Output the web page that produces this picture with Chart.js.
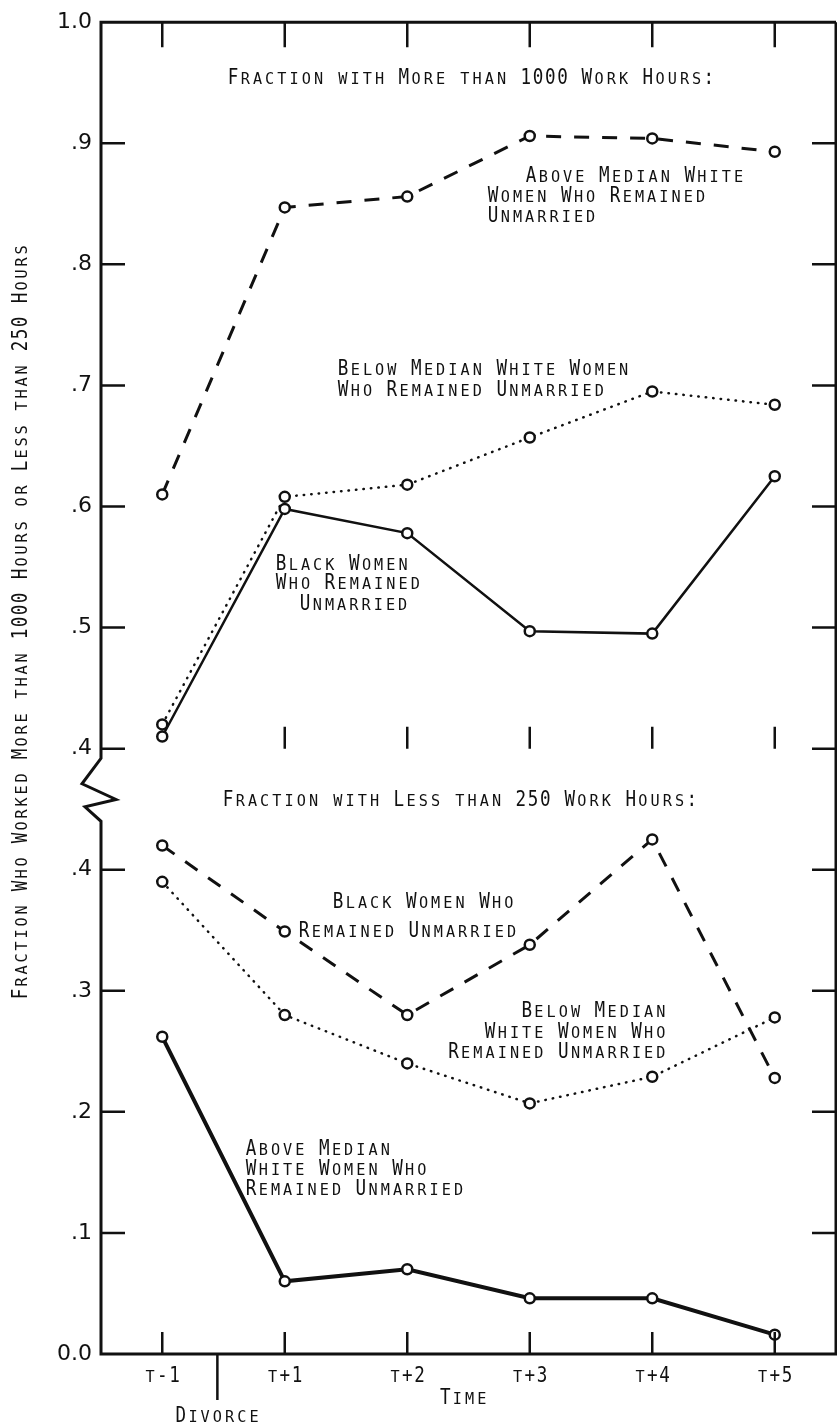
<!DOCTYPE html>
<html>
<head>
<meta charset="utf-8">
<title>Work hours after divorce</title>
<script src="https://cdn.jsdelivr.net/npm/chart.js@4.4.1/dist/chart.umd.min.js"></script>
<style>
  html, body { margin: 0; padding: 0; background: #fff; }
  canvas { display: block; }
</style>
</head>
<body>
<canvas id="workChart" width="837" height="1424"></canvas>
<script>
// periods around the divorce (lower case t prints as a small capital)
const periods = ["t-1", "t+1", "t+2", "t+3", "t+4", "t+5"];

// fraction with more than 1000 work hours
const moreAboveWhite = [0.61, 0.847, 0.856, 0.906, 0.904, 0.893];
const moreBelowWhite = [0.42, 0.608, 0.618, 0.657, 0.695, 0.684];
const moreBlack = [0.41, 0.598, 0.578, 0.497, 0.495, 0.625];

// fraction with less than 250 work hours
const lessBlack = [0.42, 0.349, 0.28, 0.338, 0.425, 0.228];
const lessBelowWhite = [0.39, 0.28, 0.24, 0.207, 0.229, 0.278];
const lessAboveWhite = [0.262, 0.06, 0.07, 0.046, 0.046, 0.016];

// y axis is broken: the upper panel sits one step higher on the scale
const yTickLabels = ["0.0", ".1", ".2", ".3", ".4", ".4", ".5", ".6", ".7", ".8", ".9", "1.0"];
const BREAK_SHIFT = 0.1;

const yTitle = "Fraction Who Worked More than 1000 Hours or Less than 250 Hours";

const notes = [
  ["Fraction with More than 1000 Work Hours:", 227, 84, "left"],
  ["Above Median White", 525, 182, "left"],
  ["Women Who Remained", 487, 202, "left"],
  ["Unmarried", 487, 222, "left"],
  ["Below Median White Women", 337, 375, "left"],
  ["Who Remained Unmarried", 337, 396, "left"],
  ["Black Women", 275, 570, "left"],
  ["Who Remained", 275, 589, "left"],
  ["Unmarried", 299, 610, "left"],
  ["Fraction with Less than 250 Work Hours:", 222, 806, "left"],
  ["Black Women Who", 332, 908, "left"],
  ["Remained Unmarried", 298, 937, "left"],
  ["Below Median", 667, 1017, "right"],
  ["White Women Who", 667, 1038, "right"],
  ["Remained Unmarried", 667, 1058, "right"],
  ["Above Median", 245, 1155, "left"],
  ["White Women Who", 245, 1175, "left"],
  ["Remained Unmarried", 245, 1195, "left"]
];

const INK = "#111";
const upper = v => v + BREAK_SHIFT;

// lettering-guide look: capitals full size, lower case as small capitals, fixed pitch
function capsText(ctx, text, x, y, align, adv) {
  adv = adv || 12.2;
  const w = text.length * adv;
  let x0 = x;
  if (align === "right") x0 = x - w;
  if (align === "center") x0 = x - w / 2;
  ctx.save();
  ctx.fillStyle = INK;
  ctx.textAlign = "center";
  ctx.textBaseline = "alphabetic";
  for (let i = 0; i < text.length; i++) {
    const ch = text[i];
    if (ch === " ") continue;
    const small = ch !== ch.toUpperCase();
    ctx.save();
    ctx.translate(x0 + (i + 0.5) * adv, y);
    ctx.scale(small ? 0.95 : 0.8, 1);
    ctx.font = (small ? 16 : 22) + 'px "DejaVu Sans Mono"';
    ctx.fillText(ch.toUpperCase(), 0, 0);
    ctx.restore();
  }
  ctx.restore();
}

const framePlugin = {
  id: "frame",
  afterDatasetsDraw(chart) {
    const { ctx, chartArea: a, scales: { x, y } } = chart;
    const yTop = y.getPixelForValue(0.5);
    const yLow = y.getPixelForValue(0.4);
    const gap = yLow - yTop;

    ctx.save();
    ctx.strokeStyle = INK;
    ctx.lineWidth = 3;
    ctx.lineJoin = "miter";

    // box, with the zigzag break in the left axis
    ctx.beginPath();
    ctx.moveTo(a.right, a.top);
    ctx.lineTo(a.left, a.top);
    ctx.lineTo(a.left, yTop + gap * 0.08);
    ctx.lineTo(a.left - 19, yTop + gap * 0.29);
    ctx.lineTo(a.left + 15, yTop + gap * 0.42);
    ctx.lineTo(a.left - 16, yTop + gap * 0.48);
    ctx.lineTo(a.left, yTop + gap * 0.6);
    ctx.lineTo(a.left, a.bottom);
    ctx.lineTo(a.right, a.bottom);
    ctx.lineTo(a.right, a.top);
    ctx.stroke();

    // inward tick marks
    ctx.lineWidth = 2.5;
    ctx.beginPath();
    y.ticks.forEach(t => {
      if (t.value <= 0 || t.value >= 1.1) return;
      const py = y.getPixelForValue(t.value);
      ctx.moveTo(a.left, py);
      ctx.lineTo(a.left + 24, py);
      ctx.moveTo(a.right, py);
      ctx.lineTo(a.right - 24, py);
    });
    periods.forEach((p, i) => {
      const px = x.getPixelForValue(i);
      ctx.moveTo(px, a.top);
      ctx.lineTo(px, a.top + 25);
      ctx.moveTo(px, a.bottom);
      ctx.lineTo(px, a.bottom - 22);
      if (i > 0) {
        ctx.moveTo(px, yTop);
        ctx.lineTo(px, yTop - 22);
      }
    });
    const dx = x.getPixelForValue(0.45);
    ctx.moveTo(dx, a.bottom);
    ctx.lineTo(dx, a.bottom + 46);
    ctx.stroke();
    ctx.restore();

    // text
    periods.forEach((p, i) => capsText(ctx, p, x.getPixelForValue(i), a.bottom + 28, "center"));
    capsText(ctx, "Time", (a.left + a.right) / 2 - 5, a.bottom + 50, "center");
    capsText(ctx, "Divorce", dx, a.bottom + 68, "center");
    notes.forEach(n => capsText(ctx, n[0], n[1], n[2], n[3]));

    ctx.save();
    ctx.translate(27, 622);
    ctx.rotate(-Math.PI / 2);
    capsText(ctx, yTitle, 0, 0, "center", 12);
    ctx.restore();
  }
};

function series(data, dash, width, cap) {
  return {
    data: data,
    borderColor: INK,
    borderWidth: width,
    borderDash: dash,
    borderCapStyle: cap || "butt",
    pointRadius: 5,
    pointBorderWidth: 2.5,
    pointBorderColor: INK,
    pointBackgroundColor: "#fff",
    fill: false,
    tension: 0
  };
}

const DASH = [15, 13];
const DOT = [0.5, 7];

new Chart(document.getElementById("workChart"), {
  type: "line",
  data: {
    labels: periods,
    datasets: [
      series(moreAboveWhite.map(upper), DASH, 3),
      series(moreBelowWhite.map(upper), DOT, 2.5, "round"),
      series(moreBlack.map(upper), [], 2.5),
      series(lessBlack, DASH, 3),
      series(lessBelowWhite, DOT, 2.5, "round"),
      series(lessAboveWhite, [], 4)
    ]
  },
  options: {
    responsive: false,
    animation: false,
    layout: {
      autoPadding: false,
      padding: { top: 16, right: 1, left: 0, bottom: 0 }
    },
    plugins: {
      legend: { display: false },
      tooltip: { enabled: false }
    },
    scales: {
      x: {
        type: "category",
        offset: true,
        grid: { display: false, drawTicks: false },
        border: { display: false },
        ticks: { display: false },
        afterFit: s => { s.height = 70; }
      },
      y: {
        min: 0,
        max: 1.1,
        grid: { display: false, drawTicks: false },
        border: { display: false },
        afterBuildTicks: s => {
          s.ticks = yTickLabels.map((l, i) => ({ value: i / 10 }));
        },
        ticks: {
          padding: 9,
          color: INK,
          font: { family: "DejaVu Sans", size: 22 },
          callback: (v, i) => yTickLabels[i]
        },
        afterFit: s => { s.width = 101; }
      }
    }
  },
  plugins: [framePlugin]
});
</script>
</body>
</html>
